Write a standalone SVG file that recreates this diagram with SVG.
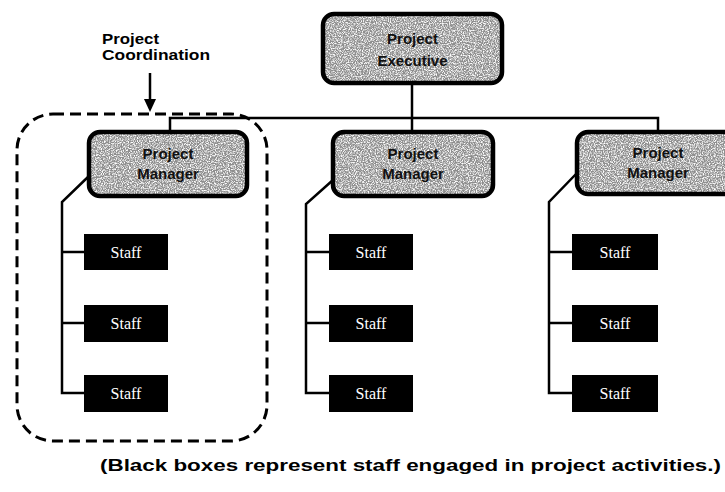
<svg xmlns="http://www.w3.org/2000/svg" width="725" height="492" viewBox="0 0 725 492">
  <style>
    .mgr-fill { fill: #8e8e8e; }
    .mgr-edge { fill: none; stroke: #000; stroke-width: 4.5; }
    .mgr-text { font-family: "Liberation Sans", Arial, sans-serif; font-weight: bold; font-size: 15px; fill: #111; text-anchor: middle; }
    .staff { fill: #000; }
    .staff-text { font-family: "Liberation Serif", "Times New Roman", serif; font-size: 16px; fill: #fff; text-anchor: middle; }
    .link { fill: none; stroke: #000; stroke-width: 2.5; }
    .coord { fill: none; stroke: #000; stroke-width: 3; stroke-dasharray: 11 6; }
    .label { font-family: "Liberation Sans", Arial, sans-serif; font-weight: bold; fill: #000; }
  </style>
  <defs>
    <!-- grainy halftone texture for the manager boxes -->
    <filter id="speckle" x="0" y="0" width="100%" height="100%">
      <feTurbulence type="fractalNoise" baseFrequency="0.85" numOctaves="2" seed="3" result="noise"/>
      <feColorMatrix in="noise" type="matrix" values="0 0 0 0 1  0 0 0 0 1  0 0 0 0 1  0 0 0 -3 1.75" result="dots"/>
      <feComposite in="dots" in2="SourceGraphic" operator="in" result="clip"/>
      <feMerge><feMergeNode in="SourceGraphic"/><feMergeNode in="clip"/></feMerge>
    </filter>
  </defs>

  <rect width="725" height="492" fill="#fff"/>

  <!-- connectors -->
  <g id="connectors">
    <line class="link" x1="412" y1="83" x2="412" y2="132"/>
    <polyline class="link" points="170,132 170,118 658,118 658,132"/>
    <polyline class="link" points="89,176 62,202 62,393 84,393"/>
    <line class="link" x1="62" y1="252" x2="84" y2="252"/>
    <line class="link" x1="62" y1="323" x2="84" y2="323"/>
    <polyline class="link" points="333,180 306,204 306,393 329,393"/>
    <line class="link" x1="306" y1="252" x2="329" y2="252"/>
    <line class="link" x1="306" y1="323" x2="329" y2="323"/>
    <polyline class="link" points="577,173 549,202 549,393 572,393"/>
    <line class="link" x1="549" y1="252" x2="572" y2="252"/>
    <line class="link" x1="549" y1="323" x2="572" y2="323"/>
  </g>

  <!-- project coordination boundary -->
  <g id="coordination">
    <rect class="coord" x="17" y="114" width="250" height="327" rx="36"/>
    <text class="label" font-size="14" x="102" y="44" textLength="57" lengthAdjust="spacingAndGlyphs">Project</text>
    <text class="label" font-size="14" x="102" y="60" textLength="108" lengthAdjust="spacingAndGlyphs">Coordination</text>
    <line x1="150" y1="73" x2="150" y2="100" stroke="#000" stroke-width="2.5"/>
    <path d="M144,99 L156,99 L150,112 Z" fill="#000"/>
  </g>

  <!-- executive -->
  <g id="executive">
    <rect class="mgr-fill" x="323" y="14" width="179" height="69" rx="11" filter="url(#speckle)"/>
    <rect class="mgr-edge" x="323" y="14" width="179" height="69" rx="11"/>
    <text class="mgr-text" x="412.5" y="44">Project</text>
    <text class="mgr-text" x="412.5" y="66">Executive</text>
  </g>

  <!-- managers -->
  <g id="manager1">
    <rect class="mgr-fill" x="89" y="132" width="158" height="64" rx="11" filter="url(#speckle)"/>
    <rect class="mgr-edge" x="89" y="132" width="158" height="64" rx="11"/>
    <text class="mgr-text" x="168" y="159">Project</text>
    <text class="mgr-text" x="168" y="179">Manager</text>
  </g>
  <g id="manager2">
    <rect class="mgr-fill" x="333" y="132" width="160" height="64" rx="11" filter="url(#speckle)"/>
    <rect class="mgr-edge" x="333" y="132" width="160" height="64" rx="11"/>
    <text class="mgr-text" x="413" y="159">Project</text>
    <text class="mgr-text" x="413" y="179">Manager</text>
  </g>
  <g id="manager3">
    <rect class="mgr-fill" x="577" y="132" width="162" height="62" rx="11" filter="url(#speckle)"/>
    <rect class="mgr-edge" x="577" y="132" width="162" height="62" rx="11"/>
    <text class="mgr-text" x="658" y="158">Project</text>
    <text class="mgr-text" x="658" y="178">Manager</text>
  </g>

  <!-- staff column 1 -->
  <g id="staff1a"><rect class="staff" x="84" y="234" width="84" height="36"/><text class="staff-text" x="126" y="258">Staff</text></g>
  <g id="staff1b"><rect class="staff" x="84" y="305" width="84" height="37"/><text class="staff-text" x="126" y="329">Staff</text></g>
  <g id="staff1c"><rect class="staff" x="84" y="375" width="84" height="37"/><text class="staff-text" x="126" y="399">Staff</text></g>

  <!-- staff column 2 -->
  <g id="staff2a"><rect class="staff" x="329" y="234" width="84" height="36"/><text class="staff-text" x="371" y="258">Staff</text></g>
  <g id="staff2b"><rect class="staff" x="329" y="305" width="84" height="37"/><text class="staff-text" x="371" y="329">Staff</text></g>
  <g id="staff2c"><rect class="staff" x="329" y="375" width="84" height="37"/><text class="staff-text" x="371" y="399">Staff</text></g>

  <!-- staff column 3 -->
  <g id="staff3a"><rect class="staff" x="572" y="234" width="86" height="36"/><text class="staff-text" x="615" y="258">Staff</text></g>
  <g id="staff3b"><rect class="staff" x="572" y="305" width="86" height="37"/><text class="staff-text" x="615" y="329">Staff</text></g>
  <g id="staff3c"><rect class="staff" x="572" y="375" width="86" height="37"/><text class="staff-text" x="615" y="399">Staff</text></g>

  <text class="label" font-size="16" x="100" y="471" textLength="621" lengthAdjust="spacingAndGlyphs">(Black boxes represent staff engaged in project activities.)</text>
</svg>
